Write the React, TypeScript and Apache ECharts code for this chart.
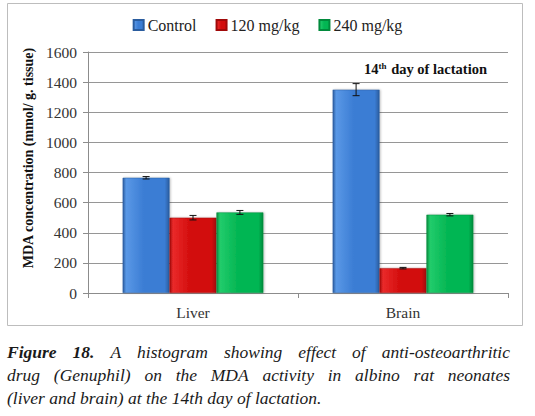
import React, { useEffect, useRef } from "react";
import * as echarts from "echarts";

const categories = ["Liver", "Brain"];
const seriesNames = ["Control", "120 mg/kg", "240 mg/kg"];
const controlValues = [765, 1350];
const mg120Values = [500, 165];
const mg240Values = [535, 520];
const controlErrors = [8, 40];
const mg120Errors = [15, 5];
const mg240Errors = [13, 8];
const yTicks = { min: 0, max: 1600, interval: 200 };
const yAxisTitle = "MDA concentration (mmol/ g. tissue)";
const captionLines: { text: string; bold?: boolean }[][] = [
  [{ text: "Figure 18.", bold: true }, { text: "A histogram showing effect of anti-osteoarthritic" }],
  [{ text: "drug (Genuphil) on the MDA activity in albino rat neonates" }],
  [{ text: "(liver and brain) at the 14th day of lactation." }],
];

const SERIF = "Liberation Serif";

const colors = [
  { base: "#3b7dd4", light: "#5a98e6", dark: "#2a5c9e" },
  { base: "#d20c0c", light: "#ea2a2a", dark: "#a00909" },
  { base: "#03b653", light: "#22cc6c", dark: "#018a3c" },
];

function barFill(c: { base: string; light: string; dark: string }) {
  return new echarts.graphic.LinearGradient(0, 0, 1, 0, [
    { offset: 0, color: c.dark },
    { offset: 0.07, color: c.light },
    { offset: 0.45, color: c.base },
    { offset: 0.9, color: c.base },
    { offset: 1, color: c.dark },
  ]);
}

export default function App() {
  const ref = useRef<HTMLDivElement>(null);
  useEffect(() => {
    if (!ref.current) return;
    const chart = echarts.init(ref.current, undefined, { renderer: "svg" });
    const values = [controlValues, mg120Values, mg240Values];
    const errors = [controlErrors, mg120Errors, mg240Errors];
    const gapFrac = 0.33;

    const barSeries = seriesNames.map((name, i) => ({
      name,
      type: "bar",
      data: values[i],
      barGap: "0%",
      barCategoryGap: "33%",
      itemStyle: {
        color: barFill(colors[i]),
        borderColor: colors[i].dark,
        borderWidth: 0.5,
        shadowColor: "rgba(0,0,0,0.25)",
        shadowBlur: 2,
        shadowOffsetX: 1,
        shadowOffsetY: 0,
      },
      z: 2,
    }));

    const errSeries = seriesNames.map((name, i) => ({
      name: name + " error",
      type: "custom",
      z: 5,
      silent: true,
      data: values[i].map((v, k) => [k, v, errors[i][k]]),
      encode: { x: 0, y: 1 },
      renderItem: (params: any, api: any) => {
        const k = api.value(0);
        const v = api.value(1);
        const e = api.value(2);
        const band = api.size([1, 0])[0];
        const bw = (band * (1 - gapFrac)) / 3;
        const center = api.coord([k, v]);
        const x = center[0] + (i - 1) * bw;
        const top = api.coord([k, v + e])[1];
        const bot = api.coord([k, v - e])[1];
        const cap = 3.5;
        const style = { stroke: "#111", lineWidth: 1 };
        return {
          type: "group",
          children: [
            { type: "line", shape: { x1: x, y1: top, x2: x, y2: bot }, style },
            { type: "line", shape: { x1: x - cap, y1: top, x2: x + cap, y2: top }, style },
            { type: "line", shape: { x1: x - cap, y1: bot, x2: x + cap, y2: bot }, style },
          ],
        };
      },
    }));

    // caption with justification
    const canvas = document.createElement("canvas");
    const ctx = canvas.getContext("2d")!;
    const capSize = 17.5;
    const capLeft = 7;
    const capRight = 510;
    const capWidth = capRight - capLeft;
    const capGraphics: any[] = [];
    captionLines.forEach((line, li) => {
      const words: { w: string; bold: boolean }[] = [];
      line.forEach((seg) => seg.text.split(" ").forEach((w) => words.push({ w, bold: !!seg.bold })));
      const canvasFont = (b: boolean) => `italic ${b ? "bold " : ""}${capSize}px "Liberation Serif"`;
      const widths = words.map((wd) => {
        ctx.font = canvasFont(wd.bold);
        return ctx.measureText(wd.w).width;
      });
      ctx.font = canvasFont(false);
      const spaceW = ctx.measureText(" ").width;
      const total = widths.reduce((a, b) => a + b, 0);
      const isLast = li === captionLines.length - 1;
      const gap = isLast ? spaceW : (capWidth - total) / (words.length - 1);
      let x = capLeft;
      const y = 352 + li * 23;
      words.forEach((wd, wi) => {
        capGraphics.push({
          type: "text",
          x,
          y,
          style: {
            text: wd.w,
            fontFamily: SERIF,
            fontStyle: "italic",
            fontWeight: wd.bold ? "bold" : "normal",
            fontSize: capSize,
            fill: "#1a1a1a",
            verticalAlign: "middle",
          },
        });
        x += widths[wi] + gap;
      });
    });

    chart.setOption({
      animation: false,
      backgroundColor: "#ffffff",
      textStyle: { fontFamily: SERIF },
      grid: { left: 88, right: 27, top: 52, bottom: 123, containLabel: false },
      legend: {
        data: seriesNames,
        top: 12,
        left: "center",
        itemWidth: 10,
        itemHeight: 10,
        itemGap: 19,
        icon: "rect",
        textStyle: { fontFamily: SERIF, fontSize: 16, color: "#222", padding: [0, 0, 0, -1] },
      },
      xAxis: {
        type: "category",
        data: categories,
        axisLine: { show: true, lineStyle: { color: "#8c8c8c", width: 1 } },
        axisTick: { show: true, alignWithLabel: false, length: 5, lineStyle: { color: "#8c8c8c" } },
        axisLabel: { fontFamily: SERIF, fontSize: 15.5, color: "#333", margin: 11 },
      },
      yAxis: {
        type: "value",
        min: yTicks.min,
        max: yTicks.max,
        interval: yTicks.interval,
        axisLine: { show: true, lineStyle: { color: "#8c8c8c", width: 1 } },
        axisTick: { show: true, length: 5, lineStyle: { color: "#8c8c8c" } },
        axisLabel: {
          fontFamily: SERIF,
          fontSize: 15.5,
          color: "#333",
          margin: 11,
          formatter: (v: number) => String(v),
        },
        splitLine: { show: true, lineStyle: { color: "#969696", width: 1 } },
      },
      graphic: [
        {
          type: "rect",
          shape: { x: 7.5, y: 3.5, width: 515, height: 322 },
          style: { fill: "none", stroke: "#bdbdbd", lineWidth: 1 },
          z: -1,
        },
        {
          type: "text",
          x: 28,
          y: 158,
          rotation: Math.PI / 2,
          style: {
            text: yAxisTitle,
            fontFamily: SERIF,
            fontWeight: "bold",
            fontSize: 14,
            fill: "#111",
            align: "center",
            verticalAlign: "middle",
          },
        },
        {
          type: "text",
          x: 487,
          y: 69,
          style: {
            text: "{n|14}{s|th}{n| day of lactation}",
            align: "right",
            verticalAlign: "middle",
            rich: {
              n: { fontFamily: SERIF, fontWeight: "bold", fontSize: 14.5, fill: "#111" },
              s: { fontFamily: SERIF, fontWeight: "bold", fontSize: 9, fill: "#111", verticalAlign: "top", padding: [0, 1, 6, 0] },
            },
          },
        },
        ...capGraphics,
      ],
      series: [...barSeries, ...errSeries],
    });
    return () => chart.dispose();
  }, []);
  return (
    <div
      ref={ref}
      style={{ position: "fixed", left: 0, top: 0, width: 535, height: 416, background: "#fff" }}
    />
  );
}
